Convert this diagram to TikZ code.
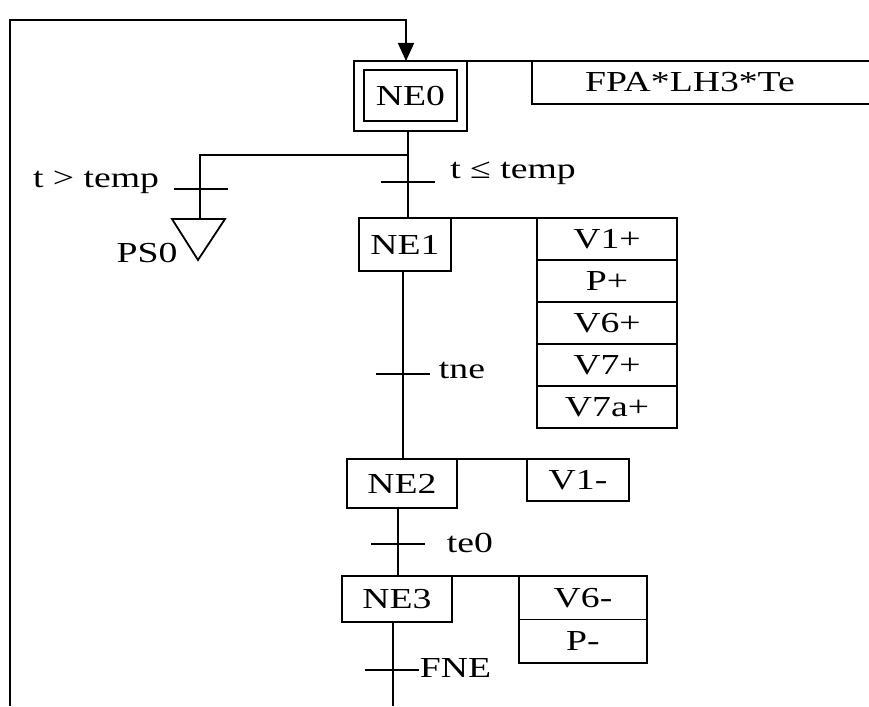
\documentclass[tikz,border=0pt]{standalone}
\usepackage{fontspec}
\setmainfont{Liberation Serif}[FakeStretch=1.3]
\usetikzlibrary{arrows.meta,positioning}
\newcommand{\grafsize}{\fontsize{29}{34}\selectfont}

\begin{document}
\begin{tikzpicture}[x=1pt, y=-1pt, line width=1.8pt,
    stepbox/.style={draw, inner sep=0pt, outer sep=0pt, font=\grafsize},
    actbox/.style={draw, inner sep=0pt, outer sep=0pt, anchor=north west, font=\grafsize},
    lbl/.style={inner sep=0pt, font=\grafsize}]
    \useasboundingbox (0,0) rectangle (869,706);

    % initial step (double frame)
    \node[stepbox, minimum width=113pt, minimum height=70pt] (NE0) at (410.5,96) {};
    \node[stepbox, minimum width=93pt, minimum height=51pt] (NE0in) at (410.5,95.5) {NE0};

    % steps
    \node[stepbox, minimum width=92pt, minimum height=53pt] (NE1) at (405,244.5) {NE1};
    \node[stepbox, minimum width=110pt, minimum height=49pt] (NE2) at (402,483.5) {NE2};
    \node[stepbox, minimum width=110pt, minimum height=46pt] (NE3) at (397,599) {NE3};

    % actions
    \node[actbox, minimum width=345pt, minimum height=43pt] (FPA) at (532,61) {};
    \node[lbl] (FPAtxt) at (690,82) {FPA*LH3*Te};
    \foreach \txt [count=\i] in {V1+, P+, V6+, V7+, V7a+} {
        \node[actbox, minimum width=140pt, minimum height=42pt] (A1-\i) at (537,{218+42*(\i-1)}) {\txt};
    }
    \node[actbox, minimum width=102pt, minimum height=42pt] (A2) at (527,459) {V1-};
    \foreach \txt [count=\i] in {V6-, P-} {
        \node[actbox, minimum width=128pt, minimum height=43.5pt] (A3-\i) at (519,{576+43.5*(\i-1)}) {\txt};
    }
    \draw (NE0.north east) -- (FPA.north west);
    \draw (NE1.north east) -- (A1-1.north west);
    \draw (NE2.north east) -- (A2.north west);
    \draw (NE3.north east) -- (A3-1.north west);

    % loop back to NE0
    \coordinate (loopB) at (10,706);
    \coordinate (loopT) at (10,20);
    \coordinate (s0) at (406,0);
    \draw[-{Triangle[length=18pt,width=16pt]}] (loopB) -- (loopT) -- (loopT -| s0) -- (s0 |- NE0.north);

    % links between steps
    \coordinate (s1) at (408,0);
    \coordinate (s2) at (403,0);
    \coordinate (s3) at (398,0);
    \coordinate (s4) at (393,0);
    \draw (s1 |- NE0.south) -- (s1 |- NE1.north);
    \draw (s2 |- NE1.south) -- (s2 |- NE2.north);
    \draw (s3 |- NE2.south) -- (s3 |- NE3.north);
    \draw (s4 |- NE3.south) -- (s4 |- 0,706);

    % branch to PS0
    \coordinate (div0) at (408,155);
    \coordinate (PS0) at (200,219);
    \draw (div0) -| (PS0);
    \draw (PS0) +(-28,0) -- +(25,0) -- +(-2,41) -- cycle;
    \node[lbl] (PS0txt) at (147,253) {PS0};

    % transitions
    \foreach \n/\x/\y in {t1/201/189, t2/408/182, t3/403/374, t4/398/544, t5/392/670} {
        \coordinate (\n) at (\x,\y);
        \draw ([xshift=-27pt]\n) -- ([xshift=27pt]\n);
    }
    \node[lbl] (t1txt) at (96,182) {t > temp};
    \node[lbl] (t2txt) at (513,173) {t ≤ temp};
    \node[lbl] (t3txt) at (462,370) {tne};
    \node[lbl] (t4txt) at (470,543) {te0};
    \node[lbl, anchor=west] (t5txt) at (419,668) {FNE};
\end{tikzpicture}
\end{document}
